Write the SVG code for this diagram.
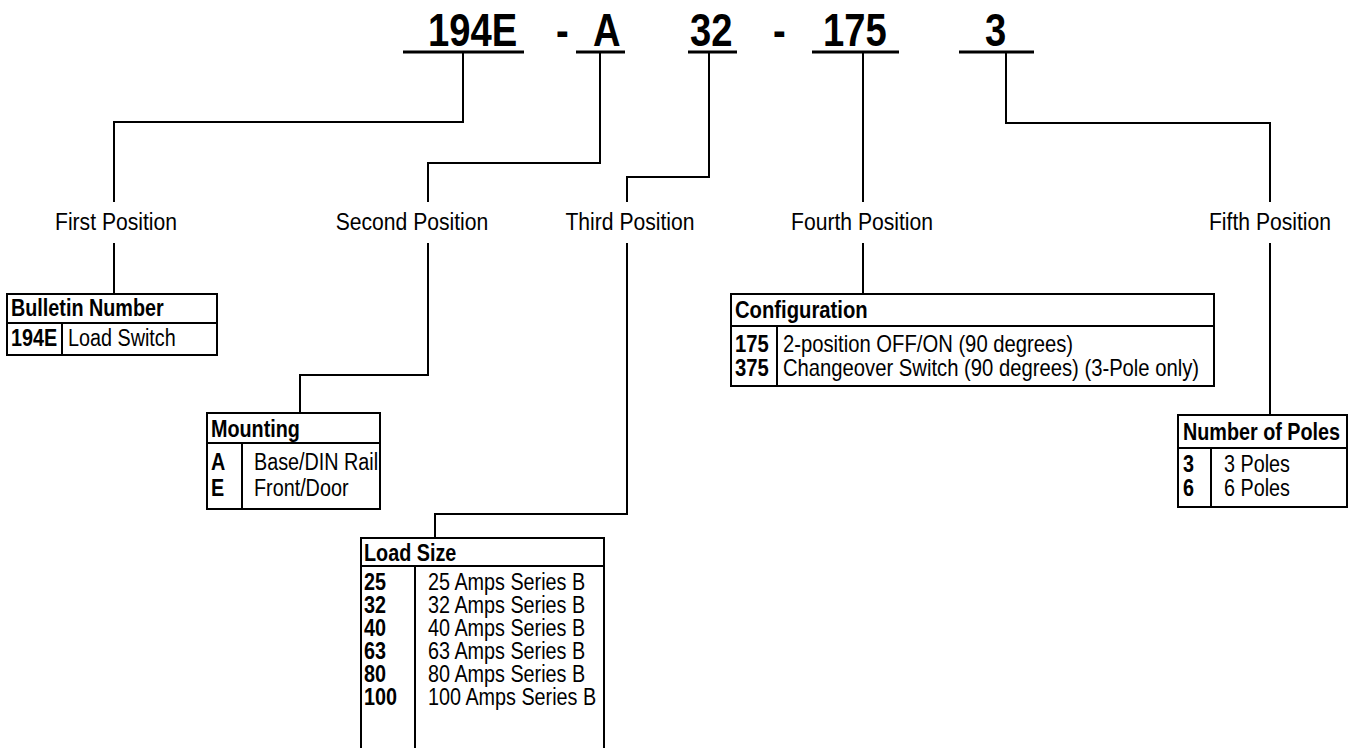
<svg xmlns="http://www.w3.org/2000/svg" width="1359" height="748" viewBox="0 0 1359 748">
<style>
text{font-family:"Liberation Sans",Arial,sans-serif;fill:#000}
.big{font-size:46px;font-weight:bold}
.lbl{font-size:24px}
.t{font-size:23px}
.b{font-weight:bold}
.ln{fill:none;stroke:#000;stroke-width:2}
.ul{fill:none;stroke:#000;stroke-width:3}
.box{fill:#fff;stroke:#000;stroke-width:2}
</style>
<rect width="1359" height="748" fill="#fff"/>
<g id="code">
<g transform="scale(0.83,1)">
<text class="big" x="515.66" y="46">194E</text>
<text class="big" x="669.88" y="46">-</text>
<text class="big" x="714.46" y="46">A</text>
<text class="big" x="831.33" y="46">32</text>
<text class="big" x="931.33" y="46">-</text>
<text class="big" x="991.57" y="46">175</text>
<text class="big" x="1186.75" y="46">3</text>
</g>
<path class="ul" d="M403,52H524M576,52H625M688,52H737M812,52H899M959,52H1034"/>
</g>
<g id="connectors">
<path class="ln" d="M463,52V122H114V202M114,243V294"/>
<path class="ln" d="M600,52V163H428V202M428,243V375H300V413"/>
<path class="ln" d="M709,52V177H627V202M627,243V514H435V538"/>
<path class="ln" d="M863,52V202M863,243V294"/>
<path class="ln" d="M1006,52V123H1270V202M1270,243V415"/>
</g>
<g id="labels" transform="scale(0.88,1)" text-anchor="middle">
<text class="lbl" x="131.82" y="230">First Position</text>
<text class="lbl" x="468.18" y="230">Second Position</text>
<text class="lbl" x="715.91" y="230">Third Position</text>
<text class="lbl" x="979.55" y="230">Fourth Position</text>
<text class="lbl" x="1443.18" y="230">Fifth Position</text>
</g>
<g id="bulletin">
<rect class="box" x="7" y="294" width="210" height="61"/>
<path class="ln" d="M7,323H217M62,323V355"/>
<g transform="scale(0.86,1)">
<text class="t b" x="12.79" y="316">Bulletin Number</text>
<text class="t b" x="12.79" y="346">194E</text>
<text class="t" x="79.07" y="346">Load Switch</text>
</g>
</g>
<g id="mounting">
<rect class="box" x="207" y="413" width="173" height="96"/>
<path class="ln" d="M207,443H380M242,443V509"/>
<g transform="scale(0.86,1)">
<text class="t b" x="245.35" y="437">Mounting</text>
<text class="t b" x="245.35" y="470">A</text>
<text class="t" x="295.35" y="470">Base/DIN Rail</text>
<text class="t b" x="245.35" y="496">E</text>
<text class="t" x="295.35" y="496">Front/Door</text>
</g>
</g>
<g id="loadsize">
<path class="box" d="M361,752V538H604V752"/>
<path class="ln" d="M361,566H604M415,566V752"/>
<g transform="scale(0.86,1)">
<text class="t b" x="423.26" y="561">Load Size</text>
<text class="t b" x="423.26" y="590">25</text>
<text class="t" x="497.67" y="590">25 Amps Series B</text>
<text class="t b" x="423.26" y="613">32</text>
<text class="t" x="497.67" y="613">32 Amps Series B</text>
<text class="t b" x="423.26" y="636">40</text>
<text class="t" x="497.67" y="636">40 Amps Series B</text>
<text class="t b" x="423.26" y="659">63</text>
<text class="t" x="497.67" y="659">63 Amps Series B</text>
<text class="t b" x="423.26" y="682">80</text>
<text class="t" x="497.67" y="682">80 Amps Series B</text>
<text class="t b" x="423.26" y="705">100</text>
<text class="t" x="497.67" y="705">100 Amps Series B</text>
</g>
</g>
<g id="configuration">
<rect class="box" x="731" y="294" width="483" height="92"/>
<path class="ln" d="M731,326H1214M777,326V386"/>
<g transform="scale(0.88,1)">
<text class="t b" x="835.23" y="318">Configuration</text>
<text class="t b" x="835.23" y="352">175</text>
<text class="t" x="889.77" y="352">2-position OFF/ON (90 degrees)</text>
<text class="t b" x="835.23" y="376">375</text>
<text class="t" x="889.77" y="376">Changeover Switch (90 degrees) (3-Pole only)</text>
</g>
</g>
<g id="poles">
<rect class="box" x="1178" y="415" width="169" height="92"/>
<path class="ln" d="M1178,448H1347M1211,448V507"/>
<g transform="scale(0.86,1)">
<text class="t b" x="1375.58" y="440">Number of Poles</text>
<text class="t b" x="1375.58" y="472">3</text>
<text class="t" x="1423.26" y="472">3 Poles</text>
<text class="t b" x="1375.58" y="496">6</text>
<text class="t" x="1423.26" y="496">6 Poles</text>
</g>
</g>
</svg>
